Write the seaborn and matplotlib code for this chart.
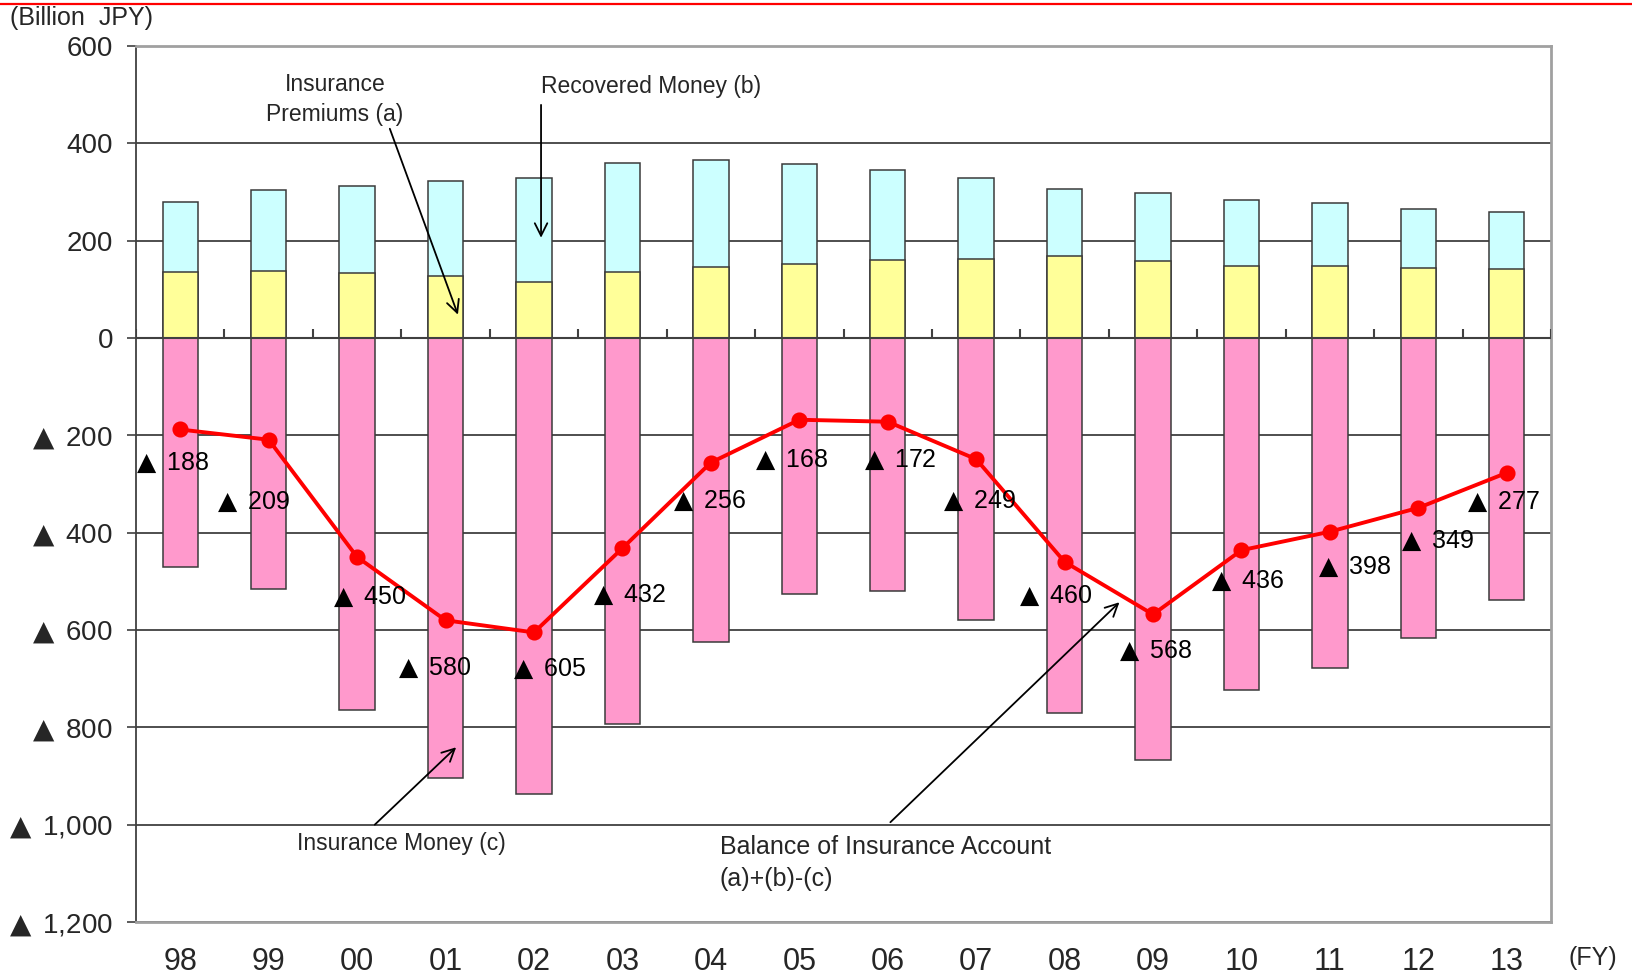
import matplotlib
matplotlib.use("Agg")
import matplotlib.pyplot as plt
from matplotlib.lines import Line2D
from matplotlib.ticker import FuncFormatter
import seaborn as sns
import pandas as pd
import numpy as np

# Fiscal years (FY1998 - FY2013)
years = ["98", "99", "00", "01", "02", "03", "04", "05",
         "06", "07", "08", "09", "10", "11", "12", "13"]
# Insurance premiums (a), billion JPY
premiums = [135, 137, 133, 128, 116, 135, 146, 152,
            161, 163, 168, 158, 147, 148, 144, 142]
# Recovered money (b), billion JPY
recovered = [145, 168, 179, 194, 213, 224, 220, 205,
             184, 166, 139, 140, 137, 130, 122, 117]
# Insurance money paid out (c), billion JPY
insurance_money = [470, 516, 765, 904, 936, 794, 624, 526,
                   519, 580, 770, 868, 723, 678, 616, 538]
# Balance of insurance account (a)+(b)-(c), billion JPY
balance = [-188, -209, -450, -580, -605, -432, -256, -168,
           -172, -249, -460, -568, -436, -398, -349, -277]

# Label offsets (pixels right, pixels down) for the balance labels
label_dx = [-8, -15, 12, -11, 15, 7, -1, -8, 12, 3, -9, 2, 6, 25, 19, -3]
label_dy = [33, 62, 40, 48, 36, 47, 38, 40, 38, 42, 34, 36, 31, 35, 33, 29]

df = pd.DataFrame({
    "year": years,
    "premiums": premiums,
    "recovered": recovered,
    "income": np.array(premiums) + np.array(recovered),
    "payout": -np.array(insurance_money),
    "balance": balance,
})

sns.set_style("white")
plt.rcParams["font.family"] = ["Liberation Sans", "DejaVu Sans"]
plt.rcParams["mathtext.fontset"] = "dejavusans"

# negative amounts are written with a solid triangle instead of a minus sign
TRI = "$\u25B2\\,$"


def neg_label(v):
    return f"{TRI} {abs(int(v)):,}"


W, H = 1632, 974
fig = plt.figure(figsize=(W / 100, H / 100), dpi=100)
ax = fig.add_axes([136 / W, 1 - 922 / H, (1551 - 136) / W, (922 - 46) / H])

edge = "#3a3a3a"
bar_kw = dict(width=0.4, edgecolor=edge, linewidth=1.1, errorbar=None, ax=ax,
              order=years)
sns.barplot(data=df, x="year", y="income", color="#CCFFFF", saturation=1, **bar_kw)
sns.barplot(data=df, x="year", y="premiums", color="#FFFF99", saturation=1, **bar_kw)
sns.barplot(data=df, x="year", y="payout", color="#FF99CC", saturation=1, **bar_kw)

sns.pointplot(data=df, x="year", y="balance", order=years, color="#FF0000",
              marker="o", markersize=9.5, linewidth=2.8, errorbar=None, ax=ax,
              zorder=5)

ax.set_xlim(-0.5, len(years) - 0.5)
ax.set_ylim(-1200, 600)
ax.set_yticks(np.arange(-1200, 601, 200))
ax.yaxis.set_major_formatter(FuncFormatter(
    lambda v, _: f"{int(v):,}" if v >= 0 else neg_label(v)))
ax.set_xlabel("")
ax.set_ylabel("")

# gridlines behind bars
ax.set_axisbelow(True)
ax.yaxis.grid(True, color="#404040", linewidth=1.3)
ax.xaxis.grid(False)

# zero axis with small upward ticks at category boundaries
ax.axhline(0, color="#404040", linewidth=1.5, zorder=3)
bounds = np.arange(-0.5, len(years), 1.0)
ax.vlines(bounds, 0, 18, color="#404040", linewidth=1.5, zorder=3)

ax.tick_params(axis="y", which="major", length=6.5, width=1.2, color="#404040",
               direction="out", pad=10, labelsize=20, left=True)
ax.tick_params(axis="x", length=0, pad=18, labelsize=22)

for side in ("top", "right", "bottom"):
    ax.spines[side].set_color("#A0A0A0")
    ax.spines[side].set_linewidth(2)
ax.spines["left"].set_color("#404040")
ax.spines["left"].set_linewidth(1.3)

# value labels for the balance line
for i, v in enumerate(balance):
    ax.annotate(neg_label(v), xy=(i, v), xytext=(label_dx[i], -label_dy[i]),
                textcoords="offset pixels", ha="center", va="center",
                fontsize=18, color="black", zorder=6)

# callouts
arrow = dict(arrowstyle="->,head_length=0.9,head_width=0.45", color="black",
             linewidth=1.3, shrinkA=0, shrinkB=0)
ax.text(1.75, 490, "Insurance\nPremiums (a)", ha="center", va="center",
        fontsize=16.5, linespacing=1.35, zorder=6)
ax.annotate("", xy=(3.14, 48), xytext=(2.37, 430), arrowprops=arrow, zorder=6)

ax.text(4.08, 517, "Recovered Money (b)", ha="left", va="center",
        fontsize=16.5, zorder=6)
ax.annotate("", xy=(4.08, 206), xytext=(4.08, 479), arrowprops=arrow, zorder=6)

ax.text(2.50, -1039, "Insurance Money (c)", ha="center", va="center",
        fontsize=16.5, zorder=6)
ax.annotate("", xy=(3.12, -841), xytext=(2.20, -1000), arrowprops=arrow, zorder=6)

ax.text(6.10, -1079, "Balance of Insurance Account\n(a)+(b)-(c)", ha="left",
        va="center", fontsize=18, linespacing=1.45, zorder=6)
ax.annotate("", xy=(10.62, -543), xytext=(8.03, -995), arrowprops=arrow, zorder=6)

# unit labels
fig.text(10 / W, 1 - 18 / H, "(Billion  JPY)", ha="left", va="center", fontsize=18)
fig.text(1593 / W, 1 - 958 / H, "(FY)", ha="center", va="center", fontsize=18)

# red rule across the top
fig.add_artist(Line2D([0, 1], [1 - 3.7 / H, 1 - 3.7 / H], transform=fig.transFigure,
                      color="#FF0000", linewidth=1.6))

fig.savefig("out.png", dpi=100)
